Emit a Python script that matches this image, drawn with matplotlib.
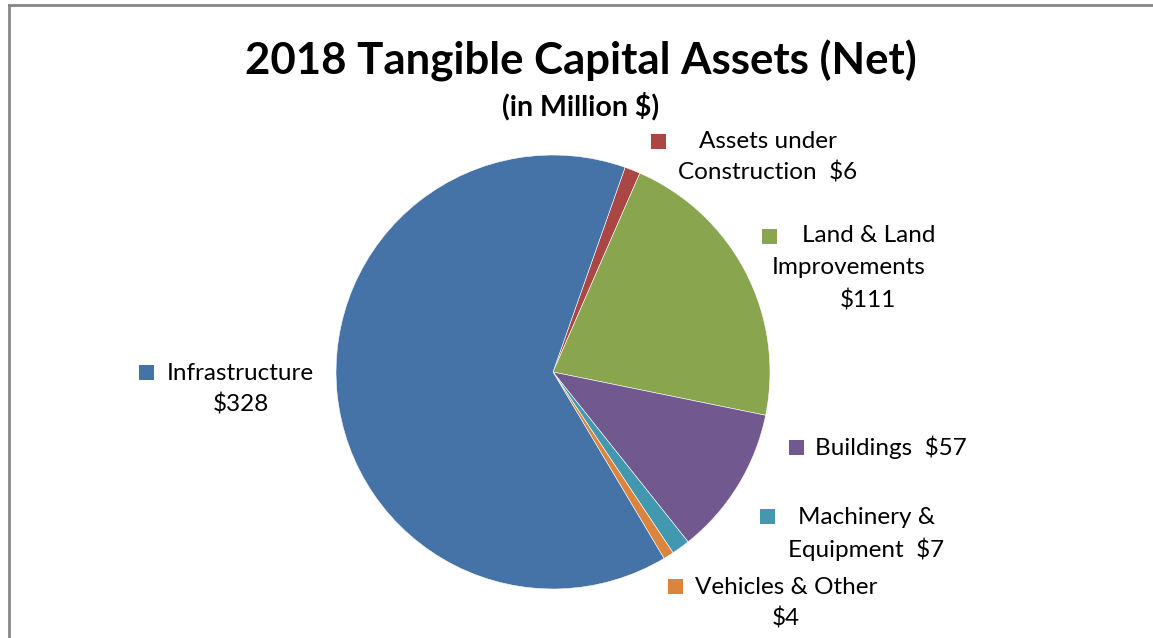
import matplotlib.pyplot as plt
from matplotlib.lines import Line2D
from matplotlib.patches import Rectangle

# data, clockwise from the top-right
names = ["Assets under\nConstruction", "Land & Land\nImprovements", "Buildings",
         "Machinery &\nEquipment", "Vehicles & Other", "Infrastructure"]
values = [6, 111, 57, 7, 4, 328]
seps = ["  ", "\n", "  ", "  ", "\n", "\n"]
colors = ["#AA4643", "#89A54E", "#71588F", "#4198AF", "#DB843D", "#4572A7"]

title = "2018 Tangible Capital Assets (Net)"
subtitle = "(in Million $)"

# label layout in pixels (figure is 1153x638)
W, H = 1153, 638
square_pos = [(658, 141), (769, 236), (796, 447), (767, 516), (675, 586), (146, 372)]
line_x = [[768, 768], [869, 849, 868], [891], [867, 866], [786, 786], [240, 241]]
line_y0 = [141, 236, 447, 517, 587, 373]
line_step = 32
sq = 15

plt.rcParams["font.family"] = ["Lato", "DejaVu Sans"]

fig = plt.figure(figsize=(W / 100, H / 100), dpi=100)

# pie axes: center (553, 372), radius 217 px
cx, cy, r = 553, 372, 217
ax = fig.add_axes([(cx - r) / W, (H - cy - r) / H, 2 * r / W, 2 * r / H])
ax.pie(values, colors=colors, startangle=70.6, counterclock=False, radius=1,
       wedgeprops=dict(edgecolor="white", linewidth=0.4))
ax.set_xlim(-1, 1)
ax.set_ylim(-1, 1)
ax.set_aspect("auto")
ax.axis("off")

fig.text(581 / W, 1 - 61 / H, title, ha="center", va="center",
         fontsize=31.5, fontweight="bold")
fig.text(581 / W, 1 - 106 / H, subtitle, ha="center", va="center",
         fontsize=20.5, fontweight="bold")

for i, (name, v) in enumerate(zip(names, values)):
    lines = (name + seps[i] + f"${v}").split("\n")
    for j, ln in enumerate(lines):
        fig.text(line_x[i][j] / W, 1 - (line_y0[i] + j * line_step) / H, ln,
                 ha="center", va="center", fontsize=17.5, color="black")
    sx, sy = square_pos[i]
    fig.add_artist(Rectangle(((sx - sq / 2) / W, 1 - (sy + sq / 2) / H),
                             sq / W, sq / H, transform=fig.transFigure,
                             facecolor=colors[i], edgecolor="none"))

# chart border (left and top edges visible)
bx, by = 9 / W, 1 - 5 / H
fig.add_artist(Line2D([bx, bx], [0, by], transform=fig.transFigure,
                      color="#868686", linewidth=2))
fig.add_artist(Line2D([bx, 1], [by, by], transform=fig.transFigure,
                      color="#868686", linewidth=2))

fig.savefig("out.png", dpi=100)
